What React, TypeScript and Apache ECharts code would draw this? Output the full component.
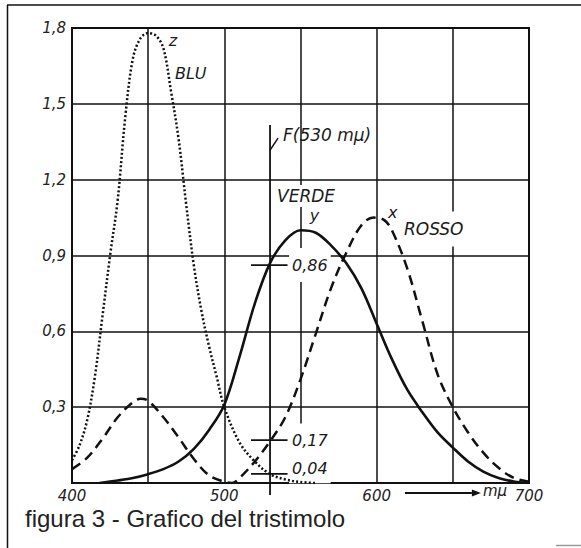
import React, { useEffect, useRef } from "react";
import * as echarts from "echarts";

// z̄ (BLU, dotted)
const zWave = [400, 405, 410, 415, 420, 425, 430, 435, 440, 445, 450, 455, 460, 465, 470, 475, 480, 485, 490, 495, 500, 510, 520, 530, 540, 550, 560];
const zValues = [0.09, 0.15, 0.25, 0.42, 0.66, 0.9, 1.12, 1.45, 1.68, 1.76, 1.78, 1.77, 1.72, 1.55, 1.36, 1.1, 0.86, 0.68, 0.54, 0.42, 0.3, 0.16, 0.085, 0.035, 0.014, 0.004, 0];

// ȳ (VERDE, solid)
const yWave = [418, 430, 440, 450, 460, 470, 480, 490, 500, 510, 520, 530, 540, 550, 560, 570, 580, 590, 600, 610, 620, 630, 640, 650, 660, 670, 680, 690, 700];
const yValues = [0, 0.01, 0.02, 0.035, 0.055, 0.085, 0.135, 0.21, 0.31, 0.5, 0.71, 0.87, 0.96, 1.0, 0.99, 0.94, 0.87, 0.77, 0.63, 0.49, 0.37, 0.28, 0.2, 0.14, 0.085, 0.045, 0.02, 0.006, 0];

// x̄ (ROSSO, dashed)
const xWave = [400, 410, 420, 430, 440, 445, 450, 460, 470, 480, 490, 500, 505, 510, 520, 530, 540, 550, 560, 570, 580, 590, 598, 605, 610, 620, 630, 640, 650, 660, 670, 680, 690, 700];
const xValues = [0.055, 0.1, 0.175, 0.26, 0.32, 0.333, 0.325, 0.26, 0.18, 0.095, 0.03, 0.005, 0, 0.02, 0.085, 0.165, 0.26, 0.41, 0.59, 0.77, 0.91, 1.02, 1.05, 1.04, 1.0, 0.85, 0.64, 0.43, 0.3, 0.2, 0.12, 0.06, 0.02, 0.005];

const xTickLabels = [400, 500, 600, 700];
const fWave = 530;
const fTop = 1.416;
const markValues = [0.862, 0.17, 0.036];
const markLabels = ["0,86", "0,17", "0,04"];

const ITALIC = "italic 16px 'DejaVu Sans'";

export default function App() {
  const ref = useRef<HTMLDivElement>(null);
  useEffect(() => {
    const chart = echarts.init(ref.current!, null, { renderer: "svg" });
    const zip = (a: number[], b: number[]) => a.map((w, i) => [w, b[i]]);
    chart.setOption({
      animation: false,
      backgroundColor: "#fff",
      grid: { left: 72, top: 28, right: 52, bottom: 65, show: true, borderColor: "#111", borderWidth: 2, backgroundColor: "transparent" },
      xAxis: {
        type: "value",
        min: 400,
        max: 700,
        interval: 50,
        axisLine: { show: true, lineStyle: { color: "#111", width: 2 } },
        axisTick: { show: false },
        splitLine: { show: true, lineStyle: { color: "#111", width: 1.5 } },
        axisLabel: {
          margin: 5,
          color: "#222",
          fontSize: 15,
          fontStyle: "italic",
          fontFamily: "DejaVu Sans",
          showMaxLabel: true,
          showMinLabel: true,
          formatter: (v: number) => (xTickLabels.includes(Math.round(v)) ? String(Math.round(v)) : ""),
        },
      },
      yAxis: {
        type: "value",
        min: 0,
        max: 1.8,
        interval: 0.3,
        axisLine: { show: true, lineStyle: { color: "#111", width: 2 } },
        axisTick: { show: false },
        splitLine: { show: true, lineStyle: { color: "#111", width: 1.5 } },
        axisLabel: {
          margin: 6,
          color: "#222",
          fontSize: 15,
          fontStyle: "italic",
          fontFamily: "DejaVu Sans",
          formatter: (v: number) => (v < 0.01 ? "" : v.toFixed(1).replace(".", ",")),
        },
      },
      series: [
        {
          type: "line",
          data: zip(zWave, zValues),
          smooth: 0.35,
          showSymbol: false,
          z: 3,
          lineStyle: { color: "#111", width: 2.5, type: [2, 2.2], cap: "butt" },
        },
        {
          type: "line",
          data: zip(xWave, xValues),
          smooth: 0.35,
          showSymbol: false,
          z: 3,
          lineStyle: { color: "#111", width: 2.5, type: [10, 6], cap: "butt" },
        },
        {
          type: "line",
          data: zip(yWave, yValues),
          smooth: 0.35,
          showSymbol: false,
          z: 4,
          lineStyle: { color: "#111", width: 2.6 },
        },
      ],
    });

    const p = (x: number, y: number) => chart.convertToPixel({ gridIndex: 0 }, [x, y]) as number[];
    const base = p(400, 0);
    const axisY = base[1];

    const txt = (text: string, pt: number[], font: string, extra: any = {}, z = 5) => ({
      type: "text",
      z,
      style: {
        text,
        x: pt[0],
        y: pt[1],
        font,
        fill: "#1a1a1a",
        textAlign: "left",
        textVerticalAlign: "middle",
        verticalAlign: "middle",
        ...extra,
      },
    });
    const line = (a: number[], b: number[], w = 1.8, z = 6) => ({
      type: "line",
      z,
      shape: { x1: a[0], y1: a[1], x2: b[0], y2: b[1] },
      style: { stroke: "#111", lineWidth: w },
    });

    const fTopPt = p(fWave, fTop);
    const fBotPt = [fTopPt[0], axisY + 12];
    const leadA = p(fWave, 1.317);
    const fTextPt = p(538.5, 1.377);

    const graphics: any[] = [];
    // outer frame
    graphics.push(line([7.5, 5], [7.5, 548], 1.5, 1));
    graphics.push(line([7, 5], [581, 5], 1.5, 1));
    graphics.push({ type: "line", z: 1, shape: { x1: 556, y1: 545.5, x2: 581, y2: 545.5 }, style: { stroke: "#999", lineWidth: 1.5 } });

    // curve labels
    graphics.push(txt("z", p(463.5, 1.752), ITALIC));
    graphics.push(txt("BLU", p(467.6, 1.62), ITALIC));
    graphics.push(txt("VERDE", p(533.3, 1.135), "italic 17px 'DejaVu Sans'", { backgroundColor: "#fff", padding: [4, 2, 1, 2] }, 2));
    graphics.push(txt("y", p(556, 1.06), ITALIC));
    graphics.push(txt("x", p(607.5, 1.07), ITALIC));
    graphics.push(txt("ROSSO", p(616.6, 1.005), "italic 17px 'DejaVu Sans'", { backgroundColor: "#fff", padding: [9, 2, 9, 2] }, 2));

    // F(530 mμ) marker line and leader
    graphics.push(line(fTopPt, fBotPt, 1.8));
    graphics.push(line(leadA, [leadA[0] + 8, leadA[1] - 12], 1.5));
    graphics.push(txt("F(530 mμ)", fTextPt, "italic 17px 'DejaVu Sans'"));

    // value ticks on F line
    const pads = [
      [6, 3, 12, 3],
      [13, 3, 4, 3],
      [3, 3, 10, 3],
    ];
    markValues.forEach((v, i) => {
      const a = p(fWave - 12.5, v);
      const b = p(fWave + 11.5, v);
      graphics.push(line(a, b, 1.8));
      const lab = p(542.5, v + (i === 2 ? 0.02 : 0));
      graphics.push(txt(markLabels[i], lab, ITALIC, { backgroundColor: "#fff", padding: pads[i] }, 2));
    });

    // wavelength arrow
    const ar1 = p(618.6, 0)[0];
    const ar2 = p(662.5, 0)[0];
    const ay = axisY + 10;
    graphics.push(line([ar1, ay], [ar2, ay], 1.8));
    graphics.push({ type: "polygon", z: 6, shape: { points: [[ar2, ay - 3.5], [ar2 + 9, ay], [ar2, ay + 3.5]] }, style: { fill: "#111" } });
    graphics.push(txt("mμ", [ar2 + 11, ay - 2], "italic 15px 'DejaVu Sans'"));

    // caption
    graphics.push({
      type: "text",
      z: 5,
      style: {
        text: "figura 3 - Grafico del tristimolo",
        x: 25,
        y: 518,
        font: "24px 'Liberation Sans'",
        fill: "#222",
        textAlign: "left",
        textVerticalAlign: "middle",
        verticalAlign: "middle",
      },
    });

    chart.setOption({ graphic: graphics });
    return () => chart.dispose();
  }, []);
  return (
    <div
      ref={ref}
      style={{ position: "fixed", left: 0, top: 0, width: 581, height: 548, background: "#fff" }}
    />
  );
}
